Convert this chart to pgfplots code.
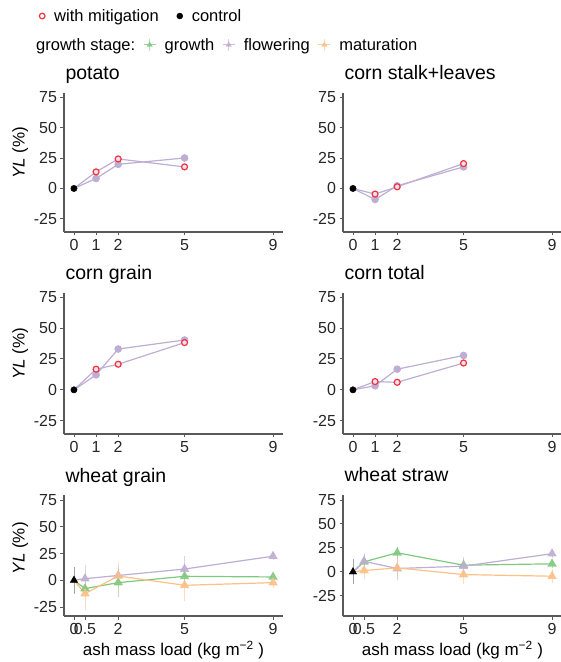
\documentclass[border=0pt]{standalone}
\usepackage{fontspec}
\setmainfont{Liberation Sans}
\usepackage{pgfplots}
\pgfplotsset{compat=1.18}
\definecolor{accgreen}{HTML}{7FC97F}
\definecolor{accpurple}{HTML}{BEAED4}
\definecolor{accorange}{HTML}{FDC086}
\definecolor{axgray}{gray}{0.35}
\definecolor{mitred}{HTML}{F8303C}

\pgfplotsset{
  panel/.style={
    scale only axis, width=219pt, anchor=south west,
    xmin=-0.45, xmax=9.45,
    axis lines=left,
    axis line style={-, draw=axgray, line width=1.1pt},
    tick align=outside, major tick length=3.5pt,
    tick style={draw=axgray, line width=0.9pt},
    ytick={-25,0,25,50,75},
    /pgf/number format/assume math mode=true,
    tick label style={font=\fontsize{16}{16}\selectfont, text=black!85},
    title style={at={(0,1)}, anchor=base west, yshift=7pt, xshift=-2pt,
      font=\fontsize{19.5}{20}\selectfont},
    ylabel style={at={(axis description cs:-0.2,0.57)}, anchor=center,
      font=\fontsize{17}{17}\selectfont},
    xlabel style={at={(axis description cs:0.5,-0.28)}, anchor=center,
      font=\fontsize{17}{17}\selectfont},
    clip=false,
  },
  toprow/.style={ymin=-35.7, ymax=78.3, xtick={0,1,2,5,9}},
  botrow/.style={xtick={0,0.5,2,5,9}, xticklabels={0,0.5,2,5,9}, height=121pt,
    xlabel={ash mass load (kg m\textsuperscript{−2} )}},
  flw/.style={accpurple, line width=1.2pt, mark=*, mark size=3.2pt,
    mark options={fill=accpurple, draw=accpurple}, mark indices={2,3,4}},
  mit/.style={accpurple, line width=1.2pt, mark=*, mark size=3pt,
    mark options={draw=mitred, fill=accpurple!35!white, line width=1.2pt},
    mark indices={2,3,4}},
  ctrl/.style={only marks, mark=*, black, mark size=3.2pt},
  stage/.style={#1, line width=1.2pt, mark=triangle*, mark size=4.3pt,
    mark options={fill=#1, draw=#1, fill opacity=0.85, draw opacity=0.85},
    mark indices={2,3,4,5},
    error bars/.cd, y dir=both, y explicit, error mark=none,
    error bar style={#1, line width=0.8pt, opacity=0.55}},
  ctrlw/.style={only marks, black, mark=triangle*, mark size=4.3pt,
    error bars/.cd, y dir=both, y explicit, error mark=none,
    error bar style={black!60, line width=0.8pt, opacity=0.6}},
}

\begin{document}
\begin{tikzpicture}
\useasboundingbox (0,0) rectangle (561pt,662pt);

% legend: mitigation / control
\begin{axis}[hide axis, scale only axis, width=561pt, height=662pt,
  at={(0,0)}, anchor=south west, xmin=0, xmax=1, ymin=0, ymax=1,
  legend columns=2,
  legend style={at={(axis description cs:0.0642,0.9758)}, anchor=west,
    draw=none, fill=none, inner xsep=0pt, inner ysep=0pt,
    font=\fontsize{16.5}{17}\selectfont,
    /tikz/every even column/.append style={column sep=13pt}}]
\addlegendimage{legend image code/.code={
  \path[draw=none] (0pt,0pt) -- (16pt,0pt);
  \draw[mitred, line width=1.2pt, fill=white] (6pt,0pt) circle (2.8pt);}}
\addlegendentry{with mitigation}
\addlegendimage{legend image code/.code={
  \path[draw=none] (0pt,0pt) -- (16pt,0pt);
  \fill[black] (6pt,0pt) circle (3pt);}}
\addlegendentry{control}
\end{axis}

% legend: growth stage
\begin{axis}[hide axis, scale only axis, width=561pt, height=662pt,
  at={(0,0)}, anchor=south west, xmin=0, xmax=1, ymin=0, ymax=1,
  legend columns=4,
  legend style={at={(axis description cs:0.0606,0.932)}, anchor=west,
    draw=none, fill=none, inner xsep=0pt, inner ysep=0pt,
    font=\fontsize{16.5}{17}\selectfont,
    /tikz/every even column/.append style={column sep=6pt}}]
\addlegendimage{empty legend}
\addlegendentry{growth stage:}
\addlegendimage{legend image code/.code={
  \path[draw=none] (0pt,0pt) -- (19pt,0pt);
  \draw[accgreen, line width=1pt, opacity=0.8] (0pt,0pt) -- (12pt,0pt);
  \draw[accgreen, line width=0.8pt, opacity=0.6] (6pt,-6pt) -- (6pt,6pt);
  \fill[accgreen, opacity=0.9] (6pt,3pt) -- (3.4pt,-1.5pt) -- (8.6pt,-1.5pt) -- cycle;}}
\addlegendentry{growth}
\addlegendimage{legend image code/.code={
  \path[draw=none] (0pt,0pt) -- (19pt,0pt);
  \draw[accpurple, line width=1pt, opacity=0.8] (0pt,0pt) -- (12pt,0pt);
  \draw[accpurple, line width=0.8pt, opacity=0.6] (6pt,-6pt) -- (6pt,6pt);
  \fill[accpurple, opacity=0.9] (6pt,3pt) -- (3.4pt,-1.5pt) -- (8.6pt,-1.5pt) -- cycle;}}
\addlegendentry{flowering}
\addlegendimage{legend image code/.code={
  \path[draw=none] (0pt,0pt) -- (19pt,0pt);
  \draw[accorange, line width=1pt, opacity=0.8] (0pt,0pt) -- (12pt,0pt);
  \draw[accorange, line width=0.8pt, opacity=0.6] (6pt,-6pt) -- (6pt,6pt);
  \fill[accorange, opacity=0.9] (6pt,3pt) -- (3.4pt,-1.5pt) -- (8.6pt,-1.5pt) -- cycle;}}
\addlegendentry{maturation}
\end{axis}

% potato
\begin{axis}[panel, toprow, at={(64pt,430pt)}, height=139pt,
  title={potato}, ylabel={\textit{YL} (\%)}]
\addplot[flw] coordinates {(0,0) (1,8.2) (2,19.8) (5,25.0)};
\addplot[mit] coordinates {(0,0) (1,13.6) (2,24.2) (5,17.7)};
\addplot[ctrl] coordinates {(0,0)};
\end{axis}

% corn stalk+leaves
\begin{axis}[panel, toprow, at={(343pt,430pt)}, height=139pt,
  title={corn stalk+leaves}]
\addplot[flw] coordinates {(0,0) (1,-9.0) (2,2.2) (5,17.7)};
\addplot[mit] coordinates {(0,0) (1,-4.6) (2,1.4) (5,20.4)};
\addplot[ctrl] coordinates {(0,0)};
\end{axis}

% corn grain
\begin{axis}[panel, toprow, at={(64pt,228pt)}, height=141pt,
  title={corn grain}, ylabel={\textit{YL} (\%)}]
\addplot[flw] coordinates {(0,0) (1,12.1) (2,33.0) (5,40.3)};
\addplot[mit] coordinates {(0,0) (1,16.7) (2,20.7) (5,38.2)};
\addplot[ctrl] coordinates {(0,0)};
\end{axis}

% corn total
\begin{axis}[panel, toprow, at={(343pt,228pt)}, height=141pt,
  title={corn total}]
\addplot[flw] coordinates {(0,0) (1,3.3) (2,16.7) (5,27.8)};
\addplot[mit] coordinates {(0,0) (1,6.7) (2,6.1) (5,21.7)};
\addplot[ctrl] coordinates {(0,0)};
\end{axis}

% wheat grain
\begin{axis}[panel, botrow, at={(64pt,46pt)}, ymin=-33.4, ymax=79.7,
  title={wheat grain}, ylabel={\textit{YL} (\%)},
  ylabel style={at={(axis description cs:-0.2,0.56)}}]
\addplot[stage=accgreen] coordinates {(0,0) +- (0,0) (0.5,-7.8) +- (0,8)
  (2,-2.2) +- (0,13) (5,3.7) +- (0,8) (9,3.1) +- (0,3)};
\addplot[stage=accpurple] coordinates {(0,0) +- (0,0) (0.5,1.5) +- (0,13)
  (2,4.5) +- (0,8) (5,10.5) +- (0,12) (9,22.5) +- (0,4)};
\addplot[stage=accorange] coordinates {(0,0) +- (0,0) (0.5,-12.5) +- (0,15)
  (2,4.0) +- (0,13) (5,-4.7) +- (0,15) (9,-2.2) +- (0,5)};
\addplot[ctrlw] coordinates {(0,0) +- (0,12.5)};
\end{axis}

% wheat straw
\begin{axis}[panel, botrow, at={(343pt,46pt)}, ymin=-46, ymax=80.2,
  title={wheat straw}]
\addplot[stage=accgreen] coordinates {(0,0) +- (0,0) (0.5,10.5) +- (0,8)
  (2,19.9) +- (0,6) (5,7.0) +- (0,6) (9,8.4) +- (0,4)};
\addplot[stage=accpurple] coordinates {(0,0) +- (0,0) (0.5,11.0) +- (0,8)
  (2,3.5) +- (0,12) (5,6.0) +- (0,10) (9,19.0) +- (0,5)};
\addplot[stage=accorange] coordinates {(0,0) +- (0,0) (0.5,1.4) +- (0,9)
  (2,4.2) +- (0,12) (5,-2.8) +- (0,10) (9,-4.5) +- (0,7)};
\addplot[ctrlw] coordinates {(0,0) +- (0,13)};
\end{axis}
\end{tikzpicture}
\end{document}
